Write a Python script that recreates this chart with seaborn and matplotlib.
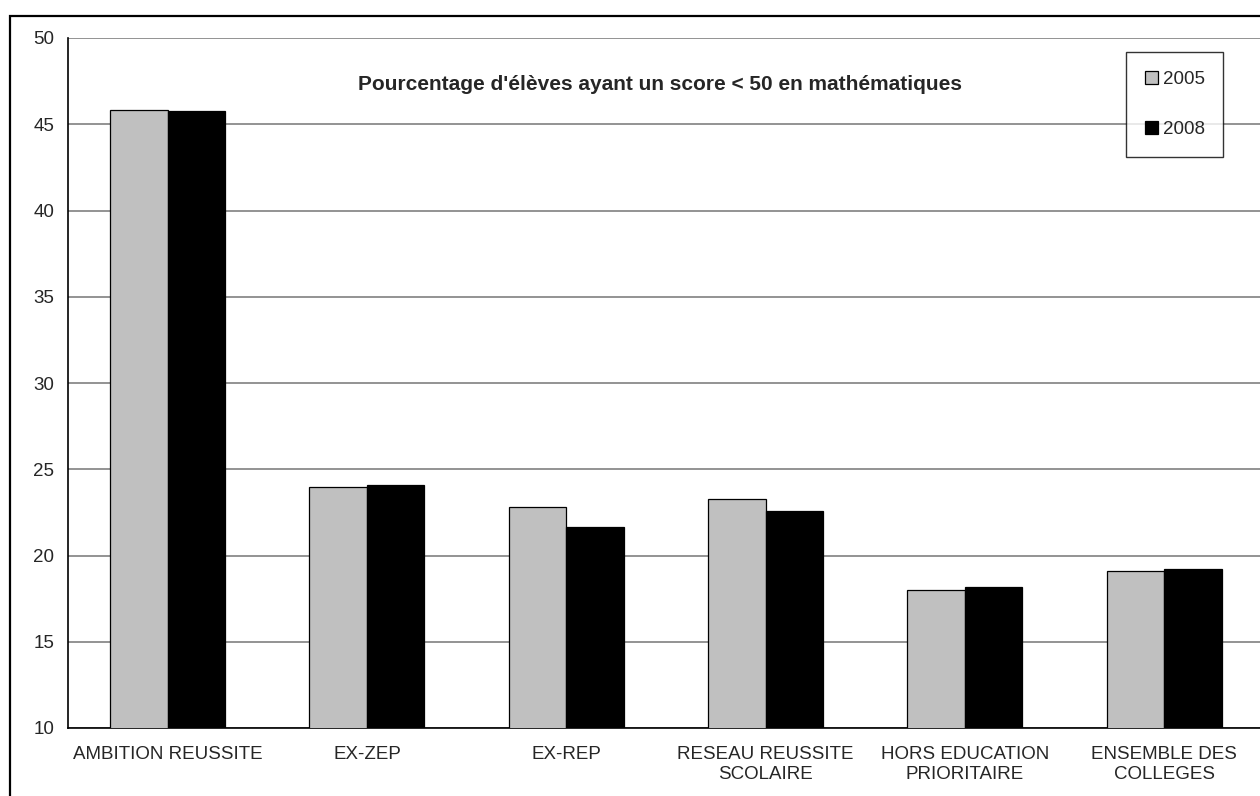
import pandas as pd
import matplotlib.pyplot as plt
import matplotlib.patches as mpatches
import seaborn as sns

categories = ['AMBITION REUSSITE', 'EX-ZEP', 'EX-REP', 'RESEAU REUSSITE\nSCOLAIRE',
              'HORS EDUCATION\nPRIORITAIRE', 'ENSEMBLE DES\nCOLLEGES']
years = ['2005', '2008']
values_2005 = [45.8, 24.0, 22.8, 23.3, 18.0, 19.1]
values_2008 = [45.75, 24.1, 21.65, 22.6, 18.2, 19.2]
yticks = [10, 15, 20, 25, 30, 35, 40, 45, 50]
title = "Pourcentage d'élèves ayant un score < 50 en mathématiques"


def build_frame():
    rows = []
    for year, vals in zip(years, [values_2005, values_2008]):
        for cat, v in zip(categories, vals):
            rows.append({'categorie': cat, 'annee': year, 'valeur': v})
    return pd.DataFrame(rows)


def main():
    df = build_frame()
    sns.set_style('white')
    plt.rcParams['font.family'] = ['Liberation Sans', 'DejaVu Sans']

    fig = plt.figure(figsize=(12.6, 7.96), dpi=100)
    ax = fig.add_axes([68 / 1260, 1 - 728 / 796, 6 * 199.3 / 1260, 690 / 796])

    sns.barplot(data=df, x='categorie', y='valeur', hue='annee', order=categories,
                hue_order=years, palette=['#C0C0C0', '#000000'], width=0.577,
                edgecolor='black', linewidth=0.9, ax=ax, zorder=3)

    ax.set_ylim(10, 50)
    ax.set_xlim(-0.5, len(categories) - 0.5)
    ax.set_yticks(yticks)
    ax.set_yticklabels([str(t) for t in yticks], fontsize=13.5)
    ax.yaxis.grid(True, color='#808080', linewidth=1.2, zorder=0)
    ax.set_axisbelow(True)

    # labels at category centres, tick marks at group boundaries
    ax.set_xticks(range(len(categories)))
    ax.set_xticklabels(categories, fontsize=13.5)
    ax.tick_params(axis='x', which='major', length=0, pad=13)
    ax.set_xticks([i - 0.5 for i in range(len(categories) + 1)], minor=True)
    ax.tick_params(axis='x', which='minor', length=6, width=1, color='black', direction='out')
    ax.tick_params(axis='y', length=6, width=1, color='black', direction='out', pad=4, labelsize=13.5)

    for s in ['top', 'right']:
        ax.spines[s].set_visible(False)
    for s in ['left', 'bottom']:
        ax.spines[s].set_color('black')
        ax.spines[s].set_linewidth(1.2)
    ax.set_xlabel('')
    ax.set_ylabel('')

    handles, labels = ax.get_legend_handles_labels()
    leg = ax.legend(handles, labels, loc='upper left',
                    bbox_to_anchor=(1126 / 1260, 1 - 52 / 796), bbox_transform=fig.transFigure,
                    fontsize=13.5, frameon=True, fancybox=False, edgecolor='black',
                    borderpad=1.0, labelspacing=1.75, handlelength=0.7, handleheight=0.7,
                    handletextpad=0.25, borderaxespad=0)
    leg.get_frame().set_linewidth(1.0)
    leg.set_zorder(5)

    fig.text(660 / 1260, 1 - 85 / 796, title, ha='center', va='center',
             fontsize=15, fontweight='bold')

    # outer chart frame
    frame = mpatches.Rectangle((10 / 1260, -0.1), 1.2, 0.1 + 1 - 16 / 796,
                               transform=fig.transFigure, fill=False,
                               edgecolor='black', linewidth=1.6)
    fig.patches.append(frame)

    fig.savefig('out.png', dpi=100)
    plt.close(fig)


if __name__ == '__main__':
    main()
